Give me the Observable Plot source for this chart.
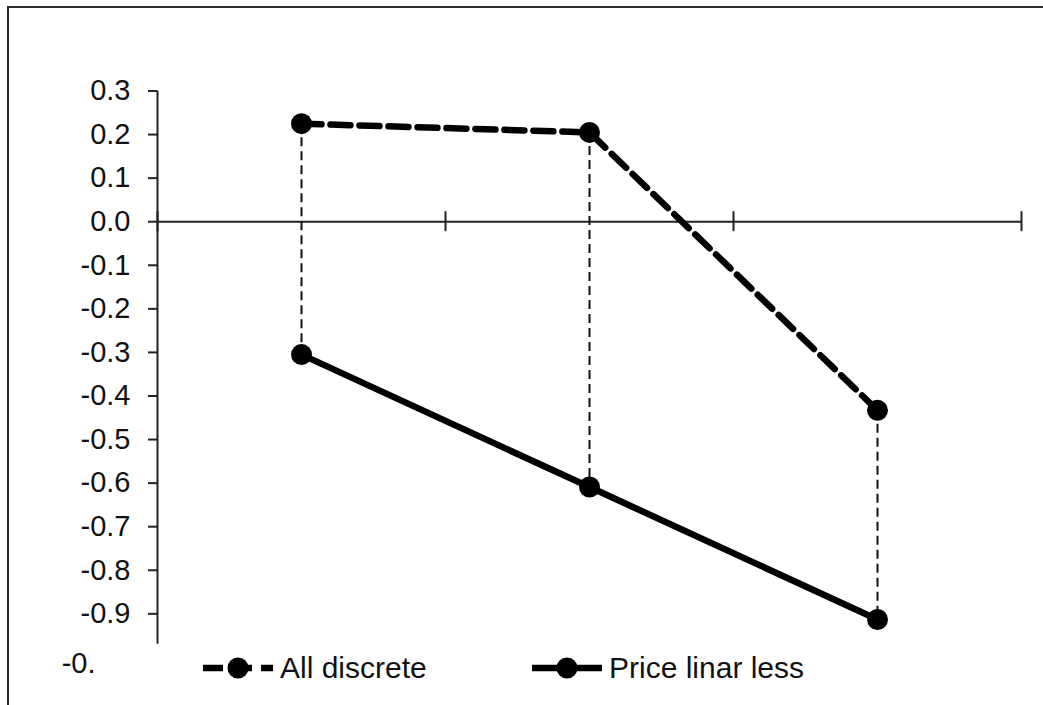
<!DOCTYPE html>
<html><head><meta charset="utf-8">
<script src="https://cdn.jsdelivr.net/npm/d3@7"></script>
<script src="https://cdn.jsdelivr.net/npm/@observablehq/plot@0.6"></script>
<style>
body{margin:0;background:#fff;font-family:"Liberation Sans",Arial,sans-serif;}
#wrap{position:relative;width:1043px;height:705px;overflow:hidden;background:#fff;}
#chart{position:absolute;left:0;top:0;}
#frame{position:absolute;left:7px;top:6px;width:1100px;height:800px;border:2.5px solid #2a2a2a;box-sizing:border-box;pointer-events:none;}
.leg{position:absolute;top:652px;height:32px;display:flex;align-items:center;font-size:30px;color:#111;white-space:nowrap;}
.leg svg{display:block;margin-right:7px;}
</style></head><body>
<div id="wrap"><div id="chart"></div><div id="frame"></div></div>
<script>
// ---- data ----
const categories = ["1", "2", "3"];
const allDiscrete = [0.225, 0.205, -0.433];
const priceLinarLess = [-0.305, -0.609, -0.913];
const seriesNames = ["All discrete", "Price linar less"];
const yTicks = [0.3, 0.2, 0.1, 0.0, -0.1, -0.2, -0.3, -0.4, -0.5, -0.6, -0.7, -0.8, -0.9];
const truncatedTick = -1.0;
const truncatedTickLabel = "-0.";
const yDomain = [-1.0, 0.3];
const yAxisEnd = -0.97;

const rows = categories.map((c, i) => ({cat: c, pos: i + 0.5, ad: allDiscrete[i], pl: priceLinarLess[i]}));
const boundaries = d3.range(categories.length + 1);

const plot = Plot.plot({
  width: 1043, height: 705,
  marginTop: 90.5, marginBottom: 48.1, marginLeft: 157, marginRight: 22,
  x: {domain: [0, categories.length], axis: null},
  y: {domain: yDomain, axis: null},
  style: {fontFamily: "'Liberation Sans', Arial, sans-serif", background: "transparent", color: "#111", overflow: "visible"},
  marks: [
    Plot.axisY({ticks: yTicks, tickFormat: d => d.toFixed(1), tickSize: 9, tickPadding: 18, fontSize: 29, strokeWidth: 2, label: null, stroke: "#222"}),
    Plot.axisY({ticks: [truncatedTick], tickFormat: () => truncatedTickLabel, tickSize: 0, tickPadding: 62, dy: 6, fontSize: 29, label: null}),
    Plot.ruleX([0], {y1: yDomain[1], y2: yAxisEnd, stroke: "#222", strokeWidth: 2}),
    Plot.ruleY([0], {x1: 0, x2: categories.length, stroke: "#222", strokeWidth: 2}),
    Plot.ruleX(boundaries, {y1: 0, y2: 0, insetTop: -10, insetBottom: -10, stroke: "#222", strokeWidth: 2}),
    Plot.ruleX(rows, {x: "pos", y1: "ad", y2: "pl", stroke: "#111", strokeWidth: 2, strokeDasharray: "9,5"}),
    Plot.line(rows, {x: "pos", y: "ad", stroke: "#000", strokeWidth: 6.5, strokeDasharray: "20,9"}),
    Plot.line(rows, {x: "pos", y: "pl", stroke: "#000", strokeWidth: 6.5}),
    Plot.dot(rows, {x: "pos", y: "ad", r: 10.5, fill: "#000"}),
    Plot.dot(rows, {x: "pos", y: "pl", r: 10.5, fill: "#000"})
  ]
});
document.getElementById("chart").appendChild(plot);

// ---- legend ----
const legendStyles = [
  {name: seriesNames[0], dash: "20,9", left: 203},
  {name: seriesNames[1], dash: null, left: 532}
];
const wrap = document.getElementById("wrap");
legendStyles.forEach(s => {
  const div = document.createElement("div");
  div.className = "leg";
  div.style.left = s.left + "px";
  div.innerHTML = `<svg width="70" height="24"><line x1="0" y1="12" x2="70" y2="12" stroke="#000" stroke-width="6.5" ${s.dash ? `stroke-dasharray="${s.dash}"` : ""}/><circle cx="35" cy="12" r="10.5" fill="#000"/></svg><span>${s.name}</span>`;
  wrap.appendChild(div);
});
</script>
</body></html>
